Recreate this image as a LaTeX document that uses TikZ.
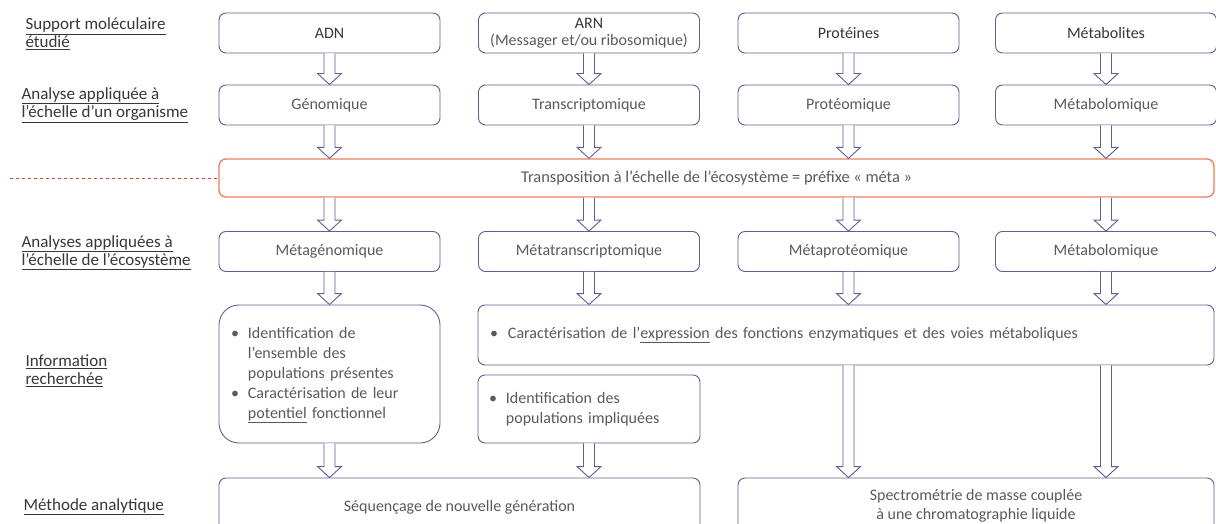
\documentclass[tikz,border=0pt]{standalone}
\usepackage{fontspec}
\setmainfont{Carlito}
\usetikzlibrary{calc}

\definecolor{traitbleu}{RGB}{95,95,145}
\definecolor{traitrouge}{RGB}{240,125,95}
\definecolor{tiretrouge}{RGB}{205,70,60}
\definecolor{textegris}{RGB}{90,90,90}
\definecolor{titregris}{RGB}{55,55,55}

\tikzset{
  boite/.style={draw=traitbleu, line width=0.9pt, rounded corners=7pt, fill=white,
    minimum width=221pt, minimum height=40pt, inner sep=0pt, align=center,
    text=textegris, font=\fontsize{16}{17}\selectfont},
  titre/.style={text=titregris},
  etiquette/.style={anchor=west, align=left, text=titregris,
    font=\fontsize{17}{18}\selectfont},
  fleche/.style={draw=traitbleu, line width=0.9pt, fill=white, line join=miter}
}

% fleche creuse de #1 vers #2
\newcommand{\fleche}[2]{%
  \draw[fleche] let \p1=#1, \p2=#2 in
    (\x1-5.5pt,\y1) -- (\x1-5.5pt,\y2+11pt) -- (\x1-12pt,\y2+11pt) -- (\x1,\y2)
    -- (\x1+12pt,\y2+11pt) -- (\x1+5.5pt,\y2+11pt) -- (\x1+5.5pt,\y1);}

\newcommand{\puce}{\textbullet}

\begin{document}
\begin{tikzpicture}[x=1pt,y=-1pt]
  \useasboundingbox (0,0) rectangle (1216,524);
  \clip (0,0) rectangle (1216,524);

  % etiquettes de gauche
  \node[etiquette] (lab1) at (22,34) {\underline{Support moléculaire}\\\underline{étudié}};
  \node[etiquette] (lab2) at (18,105) {\underline{Analyse appliquée à}\\\underline{l’échelle d’un organisme}};
  \node[etiquette] (lab3) at (18,253) {\underline{Analyses appliquées à}\\\underline{l’échelle de l’écosystème}};
  \node[etiquette] (lab4) at (22,371) {\underline{Information}\\\underline{recherchée}};
  \node[etiquette] (lab5) at (20,507) {\underline{Méthode analytique}};

  % support moleculaire
  \node[boite,titre] (adn) at (329.5,33) {ADN};
  \node[boite] (arn) at (589,33) {{\color{titregris}ARN}\\(Messager et/ou ribosomique)};
  \node[boite,titre] (prot) at (848.5,33) {Protéines};
  \node[boite,titre] (metabo) at (1106,33) {Métabolites};

  % echelle d'un organisme
  \node[boite] (genom) at (329.5,105) {Génomique};
  \node[boite] (transc) at (589,105) {Transcriptomique};
  \node[boite] (proteo) at (848.5,105) {Protéomique};
  \node[boite] (metabol) at (1106,105) {Métabolomique};

  \node[boite, draw=traitrouge, line width=1.3pt, minimum width=995pt, minimum height=38pt,
    font=\fontsize{16.4}{18}\selectfont] (transpo) at (716.5,178)
    {Transposition à l’échelle de l’écosystème = préfixe « méta »};
  \coordinate (debut) at (10,178);
  \draw[tiretrouge, dashed, line width=0.8pt] (debut) -- (transpo.west);

  % echelle de l'ecosysteme
  \node[boite] (metag) at (329.5,251.5) {Métagénomique};
  \node[boite] (metat) at (589,251.5) {Métatranscriptomique};
  \node[boite] (metap) at (848.5,251.5) {Métaprotéomique};
  \node[boite] (metab) at (1106,251.5) {Métabolomique};

  % information recherchee
  \node[boite, rounded corners=20pt, minimum height=138pt, text width=197pt, inner xsep=12pt,
    align=left, font=\fontsize{16}{20}\selectfont] (info) at (329.5,374)
    {\begin{tabular}{@{}l@{\hspace{9pt}}l@{}}
      \puce & Identification de\\
            & l’ensemble des\\
            & populations présentes\\
      \puce & Caractérisation de leur\\
            & \underline{potentiel} fonctionnel
     \end{tabular}};
  \node[boite, minimum width=736pt, minimum height=60pt, text width=712pt, inner xsep=10pt,
    align=left] (expr) at (846,335)
    {\puce\hspace{10pt}Caractérisation de l’\underline{expression} des fonctions enzymatiques et des voies métaboliques};
  \node[boite, minimum width=222pt, minimum height=68pt, text width=200pt, inner xsep=11pt,
    align=left, font=\fontsize{16}{20}\selectfont] (popu) at (589,409)
    {\begin{tabular}{@{}l@{\hspace{9pt}}l@{}}
      \puce & Identification des\\
            & populations impliquées
     \end{tabular}};

  % methode analytique
  \node[boite, minimum width=481pt, minimum height=82pt] (seq) at (459.5,519) {};
  \node[text=textegris, font=\fontsize{16}{17}\selectfont] (seqtxt) at (459.5,507) {Séquençage de nouvelle génération};
  \node[boite, minimum width=476pt, minimum height=82pt] (spectro) at (976,519) {};
  \node[text=textegris, align=center, font=\fontsize{16}{18.5}\selectfont] (spectxt) at (976,506)
    {Spectrométrie de masse couplée\\à une chromatographie liquide};

  % fleches
  \fleche{(adn.south)}{(genom.north)}
  \fleche{(arn.south)}{(transc.north)}
  \fleche{(prot.south)}{(proteo.north)}
  \fleche{(metabo.south)}{(metabol.north)}
  \fleche{(genom.south)}{(genom.south |- transpo.north)}
  \fleche{(transc.south)}{(transc.south |- transpo.north)}
  \fleche{(proteo.south)}{(proteo.south |- transpo.north)}
  \fleche{(metabol.south)}{(metabol.south |- transpo.north)}
  \fleche{(metag.north |- transpo.south)}{(metag.north)}
  \fleche{(metat.north |- transpo.south)}{(metat.north)}
  \fleche{(metap.north |- transpo.south)}{(metap.north)}
  \fleche{(metab.north |- transpo.south)}{(metab.north)}
  \fleche{(metag.south)}{(metag.south |- info.north)}
  \fleche{(metat.south)}{(metat.south |- expr.north)}
  \fleche{(metap.south)}{(metap.south |- expr.north)}
  \fleche{(metab.south)}{(metab.south |- expr.north)}
  \fleche{(info.south)}{(info.south |- seq.north)}
  \fleche{(popu.south)}{(popu.south |- seq.north)}
  \fleche{(metap.south |- expr.south)}{(metap.south |- spectro.north)}
  \fleche{(metab.south |- expr.south)}{(metab.south |- spectro.north)}
\end{tikzpicture}
\end{document}
